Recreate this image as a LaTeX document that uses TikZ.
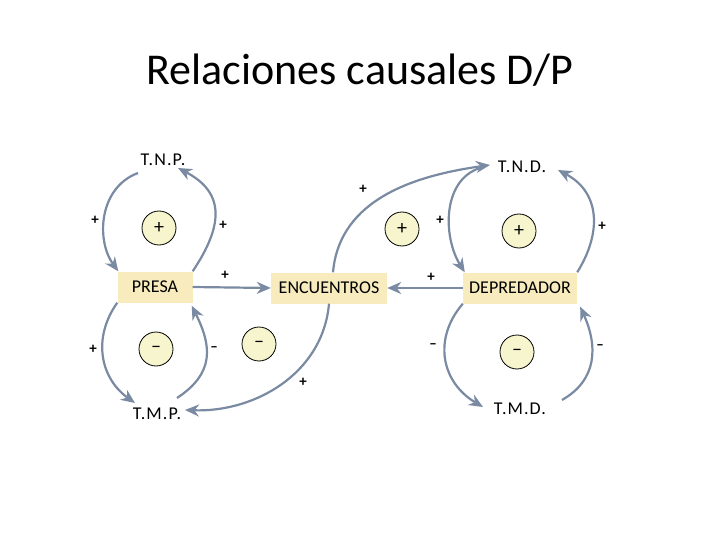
\documentclass[tikz,border=0pt]{standalone}
\usepackage{fontspec}
\setmainfont{Carlito}
\newfontfamily\rateFont[LetterSpace=6]{Carlito}
\usepackage{tikz}
\usetikzlibrary{arrows.meta}
\definecolor{arrowColor}{RGB}{122,138,162}
\definecolor{boxColor}{RGB}{248,236,190}
\definecolor{loopColor}{RGB}{246,245,205}
\tikzstyle{pixels} = [x = 1pt, y = 1pt]
\tikzstyle{boxStyle} = [fill=boxColor, minimum height=31pt, inner sep=0pt, font=\fontsize{18}{20}\selectfont]
\tikzstyle{rateText} = [font=\rateFont\fontsize{18}{20}\selectfont, inner sep=1pt]
\tikzstyle{loopCircle} = [circle, draw=black, line width=0.8pt, fill=loopColor, minimum size=34pt, inner sep=0pt, font=\fontsize{20}{20}\selectfont]
\tikzstyle{signText} = [font=\bfseries\fontsize{15}{15}\selectfont, inner sep=0pt]
\tikzstyle{causalArrow} = [draw=arrowColor, line width=2.2pt, -{Stealth[length=14pt, width=12pt]}]
\newcommand{\loopMark}[4]{\node [loopCircle] (#1) at (#2, #3) {#4};}
\newcommand{\signMark}[4]{\node [signText] (#1) at (#2, #3) {#4};}

\begin{document}
\begin{tikzpicture}[pixels]
  \useasboundingbox (0,0) rectangle (720,-540);
  \node [font=\fontsize{44}{48}\selectfont] (title) at (360,-70) {Relaciones causales D/P};

  % variables
  \node [boxStyle, minimum width=75pt] (presa) at (155,-287) {PRESA};
  \node [boxStyle, minimum width=116pt] (encuentros) at (329,-288) {ENCUENTROS};
  \node [boxStyle, minimum width=114pt] (depredador) at (520,-288) {DEPREDADOR};
  \node [rateText] (tnp) at (163,-160) {T.N.P.};
  \node [rateText] (tmp) at (157,-414) {T.M.P.};
  \node [rateText] (tnd) at (522,-167) {T.N.D.};
  \node [rateText] (tmd) at (520,-409) {T.M.D.};

  % loops
  \loopMark{presaPlus}{159}{-228}{+}
  \loopMark{presaMinus}{156}{-349}{–}
  \loopMark{encuentrosPlus}{402}{-229}{+}
  \loopMark{encuentrosMinus}{259}{-344}{–}
  \loopMark{depredadorPlus}{519}{-231}{+}
  \loopMark{depredadorMinus}{517}{-352}{–}

  % presa
  \draw [causalArrow] ([shift={(-25,-13)}]tnp.center) .. controls +(-40,-15) and +(-22,30) .. ([xshift=1pt]presa.north west);
  \draw [causalArrow] (presa.north east) .. controls +(30,45) and +(48,-25) .. ([shift={(15,-8)}]tnp.center);
  \draw [causalArrow] (presa.south west) .. controls +(-25,-35) and +(-35,25) .. ([shift={(-22,11)}]tmp.center);
  \draw [causalArrow] ([shift={(20,16)}]tmp.center) .. controls +(38,25) and +(20,-40) .. ([shift={(-1,-3)}]presa.south east);

  % encuentros
  \draw [causalArrow] (presa.east) -- (encuentros.west);
  \draw [causalArrow] (depredador.west) -- (encuentros.east);
  \draw [causalArrow] ([xshift=4pt]encuentros.north) to [out=85, in=188] ([shift={(-32,2)}]tnd.center);
  \draw [causalArrow] (encuentros.south) to [out=-95, in=-2] ([shift={(28,4)}]tmp.center);

  % depredador
  \draw [causalArrow] ([shift={(-42,-1)}]tnd.center) .. controls +(-38,-12) and +(-22,35) .. ([xshift=2pt]depredador.north west);
  \draw [causalArrow] (depredador.north east) .. controls +(25,40) and +(42,-22) .. ([shift={(36,-3)}]tnd.center);
  \draw [causalArrow] (depredador.south west) .. controls +(-30,-35) and +(-42,25) .. ([shift={(-37,2)}]tmd.center);
  \draw [causalArrow] ([shift={(42,9)}]tmd.center) .. controls +(35,20) and +(18,-40) .. ([shift={(3,-3)}]depredador.south east);

  % signs
  \signMark{sA}{95}{-220}{+}
  \signMark{sB}{223}{-225}{+}
  \signMark{sC}{93}{-349}{+}
  \signMark{sD}{214}{-349}{–}
  \signMark{sE}{225}{-275}{+}
  \signMark{sF}{431}{-277}{+}
  \signMark{sG}{363}{-189}{+}
  \signMark{sH}{303}{-382}{+}
  \signMark{sI}{440}{-220}{+}
  \signMark{sJ}{602}{-226}{+}
  \signMark{sK}{433}{-346}{–}
  \signMark{sL}{600}{-347}{–}
\end{tikzpicture}
\end{document}
